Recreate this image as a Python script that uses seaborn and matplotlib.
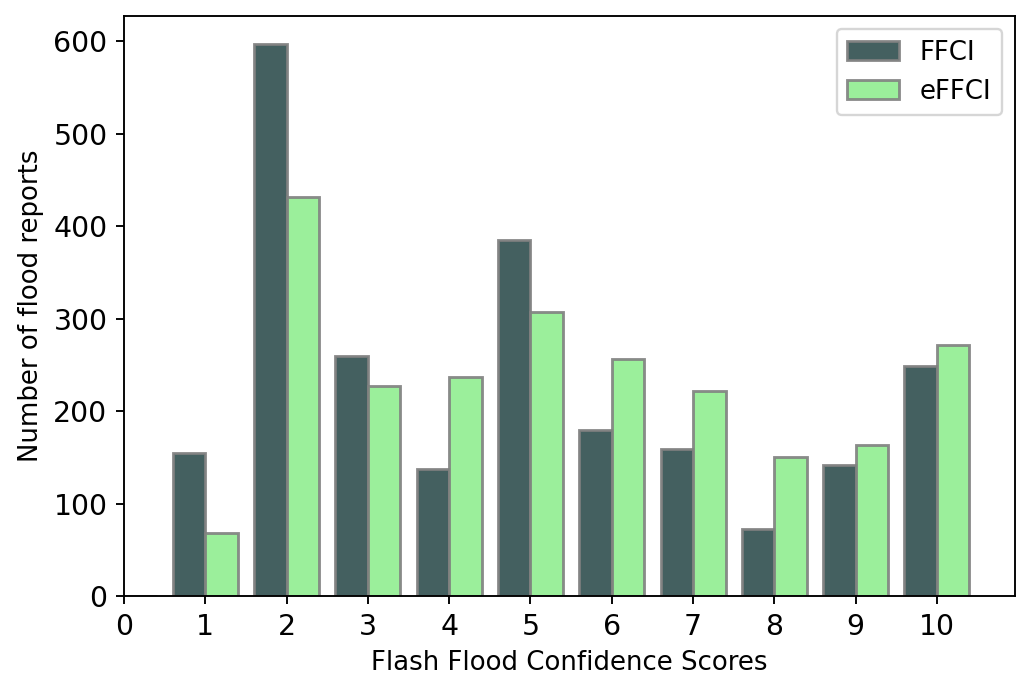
import matplotlib
matplotlib.use("Agg")
import matplotlib.pyplot as plt
import seaborn as sns
import pandas as pd

scores = [0, 1, 2, 3, 4, 5, 6, 7, 8, 9, 10]
ffci = [0, 155, 597, 260, 137, 385, 180, 159, 72, 142, 249]
effci = [0, 68, 432, 227, 237, 307, 256, 222, 150, 163, 271]
series_names = ["FFCI", "eFFCI"]
series_colors = ["darkslategray", "lightgreen"]

df = pd.DataFrame({
    "score": scores * 2,
    "count": ffci + effci,
    "index": [series_names[0]] * len(scores) + [series_names[1]] * len(scores),
})

sns.set_style("ticks")
plt.rcParams["font.family"] = ["DejaVu Sans"]
plt.rcParams["text.color"] = "black"
plt.rcParams["axes.labelcolor"] = "black"

fig, ax = plt.subplots(figsize=(1019 / 170, 675 / 170), dpi=170)
fig.subplots_adjust(left=0.1217, right=0.996, top=0.976, bottom=0.117)

sns.barplot(data=df, x="score", y="count", hue="index", hue_order=series_names,
            palette=series_colors, width=0.8, alpha=0.9, edgecolor="grey",
            linewidth=1.2, ax=ax, errorbar=None, saturation=1)

ax.set_xlim(0, 10.96)
ax.set_ylim(0, 627)
ax.set_yticks([0, 100, 200, 300, 400, 500, 600])
ax.set_xlabel("Flash Flood Confidence Scores", fontsize=11, color="black")
ax.set_ylabel("Number of flood reports", fontsize=11, color="black")
ax.tick_params(labelsize=12, colors="black")
for s in ax.spines.values():
    s.set_color("black")
    s.set_visible(True)

leg = ax.legend(loc="upper right", title=None, fontsize=11)
for h in leg.legend_handles:
    h.set_alpha(0.9)
    h.set_edgecolor("grey")
for t in leg.get_texts():
    t.set_color("black")

fig.savefig("out.png", dpi=170)
